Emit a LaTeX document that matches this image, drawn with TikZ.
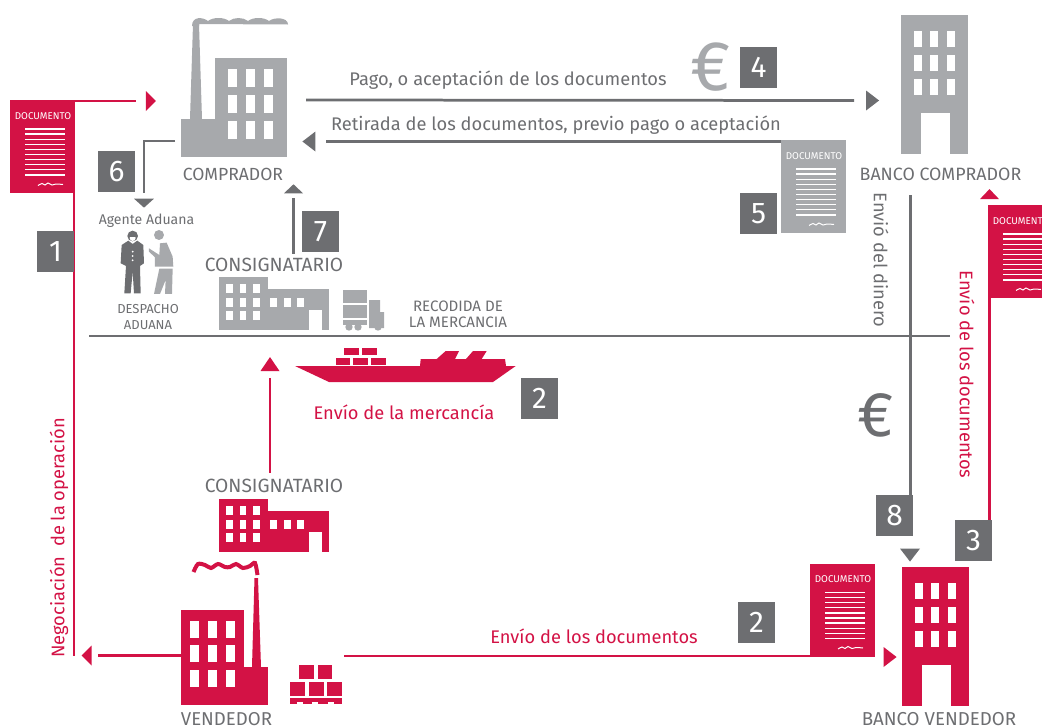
\documentclass[tikz,border=0pt]{standalone}
\usepackage{xcolor}
\usepackage{fontspec}
\setmainfont{Fira Sans}
\usepackage{tikz}
\usetikzlibrary{shapes.geometric}
\definecolor{crred}{RGB}{211, 18, 69}
\definecolor{crgray}{RGB}{167, 169, 172}
\definecolor{crdark}{RGB}{109, 110, 113}

\tikzset{
  redline/.style={draw=crred, line width=0.052cm},
  darkline/.style={draw=crdark, line width=0.055cm},
  numbox/.style={fill=crdark, text=white, minimum width=0.74cm, minimum height=0.82cm, inner sep=0, outer sep=0, font=\fontsize{17}{17}\selectfont},
  tiptri/.style={isosceles triangle, isosceles triangle stretches, inner sep=0, outer sep=0, fill=#1},
  tipside/.style={tiptri=#1, minimum width=0.4cm, minimum height=0.26cm},
  tipup/.style={tiptri=#1, shape border rotate=90, minimum width=0.38cm, minimum height=0.24cm},
  tipdown/.style={tiptri=#1, shape border rotate=-90, minimum width=0.4cm, minimum height=0.24cm},
  bodytext/.style={inner sep=0, text=#1, font=\fontsize{10.4}{12}\selectfont},
  captext/.style={inner sep=0, text=crdark, font=\fontsize{#1}{12}\selectfont},
  smalltext/.style={inner sep=0, align=center, text=crdark, font=\fontsize{#1}{9}\selectfont},
  bldg/.style={anchor=north west, inner sep=0, outer sep=0, fill=#1},
  pics/docicon/.style={code={
    \node[bldg=#1, minimum width=1.31cm, minimum height=1.87cm] (-box) at (0,0) {};
    \node[inner sep=0, text=white, font=\fontsize{5.6}{6}\selectfont] (-title) at (33,16) {DOCUMENTO};
    \foreach \n in {0,...,9}
      \draw[white, line width=0.026cm] (15,29+\n*5.1) -- (55,29+\n*5.1);
    \draw[white, line width=0.02cm] plot[smooth] coordinates {(28,85.5) (32,83.5) (35,85) (38,83) (42,85) (46,84) (53,84.5)};
  }},
  pics/towericon/.style={code={
    \node[bldg=#1, minimum width=1.34cm, minimum height=2.78cm] (-box) at (0,0) {};
    \foreach \wx in {12.5,29,46}
      \foreach \wy in {15.5,39.5,63.5}
        \fill[white] (\wx,\wy) rectangle ++(8,16);
    \fill[white] (20,98) rectangle (49,139);
  }},
  pics/storeicon/.style={code={
    \node[bldg=#1, minimum width=0.98cm, minimum height=1.06cm] (-box) at (0,0) {};
    \fill[#1] (49,12) rectangle (110,53);
    \foreach \wx in {7,20.5,34}
      \foreach \wy in {7,20.5,34}
        \fill[white] (\wx,\wy) rectangle ++(6.5,9);
    \foreach \wx in {51,65,78}
      \fill[white] (\wx,20.5) rectangle ++(6.5,9);
    \fill[white] (90,33) rectangle (103,53);
  }}
}

\begin{document}
\begin{tikzpicture}[x=0.02cm, y=-0.02cm]
\clip (0,0) rectangle (1042,727);

% Comprador
\node[bldg=crgray, minimum width=1.44cm, minimum height=1.98cm] (comprador) at (215,58) {};
\node[bldg=crgray, minimum width=0.68cm, minimum height=0.76cm] (compradorbase) at (181,119) {};
\fill[crgray] (190,119) -- (193,24) -- (199,24) -- (202,119) -- cycle;
\fill[crgray] (192,26) .. controls (192,16) and (203,17) .. (208,21) .. controls (213,17) and (224,17) .. (229,21)
  .. controls (234,17) and (243,17) .. (248,21) .. controls (253,17) and (264,17) .. (269,21)
  .. controls (274,17) and (288,17) .. (288,24.5) -- (199,24) -- (199,26) -- cycle;
\foreach \wx in {228,246,264}
  \foreach \wy in {69,95,121}
    \fill[white] (\wx,\wy) rectangle ++(8.5,18);
\node[captext=10] (compradorlabel) at (233,174) {COMPRADOR};

% Vendedor
\node[bldg=crred, minimum width=1.26cm, minimum height=1.9cm] (vendedor) at (181,610) {};
\fill[crred] (244,667) rectangle (268,705);
\fill[crred] (252,667) -- (254.5,578) -- (258,578) -- (261,667) -- cycle;
\draw[crred, line width=0.08cm] plot[smooth] coordinates {(193.5,572) (198,564) (205,565) (211,568) (218,564) (225,567) (230,567) (236,564) (243,568) (250,566) (255,563) (257.5,575)};
\foreach \wx in {190,208,226}
  \foreach \wy in {621,645,670}
    \fill[white] (\wx,\wy) rectangle ++(8.5,17);
\node[captext=10.6] (vendedorlabel) at (226.5,719.5) {VENDEDOR};

% Pallet
\foreach \bx/\by in {299/665,317.5/665,290/682,309/682,327/682}
  \fill[crred] (\bx,\by) rectangle ++(14.5,14);
\fill[crred] (290,698) rectangle (342,704);
\foreach \bx in {297,312,328}
  \fill[white] (\bx,702.3) rectangle ++(6,2);
\coordinate (palletline) at (344,656);

% Bancos
\pic (bancocomp) at (901,15) {towericon=crgray};
\node[captext=10.15] (bancocomplabel) at (940.5,174) {BANCO COMPRADOR};
\pic (bancovend) at (902,567) {towericon=crred};
\node[captext=10.65] (bancovendlabel) at (939,719.5) {BANCO VENDEDOR};

% Consignatarios
\pic (storegray) at (219,277) {storeicon=crgray};
\node[captext=10.9] (consiggray) at (274,265) {CONSIGNATARIO};
\pic (storered) at (219,499) {storeicon=crred};
\node[captext=10.9] (consigred) at (274,486) {CONSIGNATARIO};

% Documentos
\pic (doca) at (10,100) {docicon=crred};
\pic (docb) at (810,563.5) {docicon=crred};
\pic (docc) at (988,205) {docicon=crred};
\pic (docd) at (781,140) {docicon=crgray};

% Camion
\fill[crgray] (343,290) rectangle (367,303);
\fill[crgray] (343,305) rectangle (367,318);
\fill[crgray] (343,320) rectangle (367,325);
\foreach \wx in {349,358,378}
  \fill[crgray] (\wx,327) circle (3.7);
\fill[crgray] (369,300) -- (380,300) -- (380,312) -- (384,312) -- (384,328) -- (369,328) -- cycle;

% Barco
\fill[crred] (295,366) -- (420,366) -- (420.7,359) -- (436.7,359) -- (445.7,351) -- (459,351) -- (455,359) -- (466,359)
  -- (473,351) -- (486.7,351) -- (481.7,359) -- (505,359) -- (506,366) -- (515.7,366) -- (493,382) -- (329,382) -- cycle;
\foreach \bx/\by in {344/348,362/348,335.7/358,353/358,371/358}
  \fill[crred] (\bx,\by) rectangle ++(14.5,6.5);

% Agente aduana
\begin{scope}[x=0.00667cm, y=-0.00667cm]
\fill[crdark] (365,735) -- (385,722) -- (398,732) -- (412,722) -- (430,735) -- (432,790) -- (420,798) -- (422,880)
  -- (402,880) -- (398,815) -- (392,880) -- (373,880) -- (378,798) -- (362,790) -- cycle;
\fill[crdark] (398,708) circle (16);
\fill[white] (398,714) circle (9);
\fill[crdark] (386,704) rectangle (410,710);
\foreach \by in {755,768,781}
  \fill[white] (398,\by) circle (3);
\fill[crgray] (477,705) circle (15);
\fill[crgray] (447,745) -- (478,765) -- (480,730) -- (500,728) -- (518,770) -- (520,800) -- (465,800) -- (465,772) -- (447,755) -- cycle;
\fill[crgray] (478,806) -- (518,806) -- (516,882) -- (495,882) -- (497,840) -- (480,882) -- (462,882) -- cycle;
\end{scope}
\node[smalltext=8] (agente) at (146.5,221) {Agente Aduana};
\node[smalltext=7.4] (despacho) at (148,317) {DESPACHO\\ADUANA};
\node[smalltext=8.6] (recogida) at (458,314) {RECODIDA DE\\LA MERCANCIA};

% Linea horizontal
\coordinate (marw) at (89,336);
\coordinate (mare) at (950,336);
\draw[darkline] (marw) -- (mare);

% Flechas rojas
\node[tipside=crred, minimum height=0.2cm] (tipcomp) at (150,101) {};
\draw[redline, shorten >=0.2cm] (doca-box.east |- tipcomp) -- (tipcomp.west);
\coordinate (negociacion) at (74,656);
\draw[redline] (negociacion |- doca-box.south) -- (negociacion);
\node[tipside=crred, shape border rotate=180, minimum height=0.2cm] (tipvend) at (87.5,655.5) {};
\draw[redline, shorten >=0.12cm] (vendedor.west |- tipvend) -- (tipvend.east);
\draw[redline] (palletline) -- (docb-box.west |- palletline);
\node[tipside=crred] (tipbanco) at (888.5,657) {};
\node[tipup=crred, minimum height=0.28cm] (tipconsig) at (270,366) {};
\draw[redline, shorten <=0.14cm, shorten >=0.12cm] (tipconsig.south) -- (tipconsig.south |- consigred.north);
\node[tipup=crred, minimum height=0.2cm] (tipbancocomp) at (989.5,195) {};
\node[numbox] (numtres) at (973.5,540.5) {3};
\coordinate (enviotres) at (989.5,298);
\draw[redline] (enviotres) -- (enviotres |- numtres.north);

% Flechas grises
\coordinate (pagoini) at (306,100);
\node[tipside=crdark] (tipcuatro) at (871,100.5) {};
\draw[darkline, shorten >=0.24cm] (pagoini) -- (tipcuatro.west);
\node[tipside=crdark, shape border rotate=180] (tipcinco) at (310.5,141.5) {};
\draw[darkline, shorten >=0.22cm] (docd-box.west |- tipcinco) -- (tipcinco.east);
\node[tipdown=crdark, minimum height=0.18cm] (tipseis) at (144,202.5) {};
\coordinate (seisini) at (175,141);
\draw[darkline, shorten >=0.12cm] (seisini) -| (tipseis.north);
\node[tipup=crdark, minimum height=0.18cm] (tipsiete) at (293.5,189.5) {};
\draw[darkline, shorten <=0.1cm, shorten >=0.08cm] (tipsiete.south) -- (tipsiete.south |- consiggray.north);
\node[numbox] (numocho) at (894.5,515.5) {8};
\coordinate (dinero) at (910.5,195);
\draw[darkline] (dinero) -- (dinero |- numocho.north);
\node[tipdown=crdark, minimum height=0.26cm] (tipocho) at (910,553.5) {};

% Numeros
\node[numbox] (numuno) at (55.5,251.5) {1};
\node[numbox] (numseis) at (116.5,171.5) {6};
\node[numbox] (numsiete) at (320.5,231.5) {7};
\node[numbox] (numcuatro) at (758.5,67.5) {4};
\node[numbox] (numcinco) at (758.5,213.5) {5};
\node[numbox] (numdosa) at (539.5,398.5) {2};
\node[numbox] (numdosb) at (756.5,622.5) {2};

% Textos
\node[bodytext=crdark] (pagotext) at (508,80) {Pago, o aceptación de los documentos};
\node[bodytext=crdark] (retiradatext) at (556,125) {Retirada de los documentos, previo pago o aceptación};
\node[bodytext=crred] (mercanciatext) at (404,412) {Envío de la mercancía};
\node[bodytext=crred] (docstext) at (594,636) {Envío de los documentos};
\node[bodytext=crdark, rotate=-90] (dinerotext) at (881,260) {Envió del dinero};
\node[bodytext=crred, rotate=-90] (docsuptext) at (967,374.5) {Envío de los documentos};
\node[bodytext=crred, rotate=90] (negotext) at (59,538) {Negociación\ \ de la operación};
\node[inner sep=0, text=crgray, font=\fontsize{40}{40}\selectfont] (euroa) at (711,67) {€};
\node[inner sep=0, text=crdark, font=\fontsize{36}{36}\selectfont] (eurob) at (875.5,415) {€};
\end{tikzpicture}
\end{document}
